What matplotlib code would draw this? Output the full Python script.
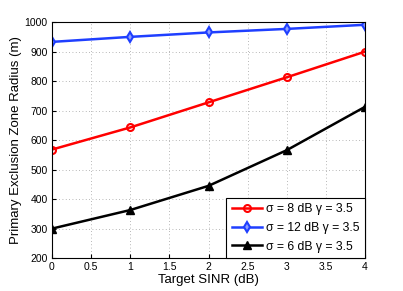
import matplotlib
matplotlib.use("Agg")
import matplotlib.pyplot as plt

plt.rcParams['font.family'] = ['Liberation Sans', 'DejaVu Sans']

sinr = [0, 1, 2, 3, 4]
r_sigma8 = [568, 643, 728, 813, 900]
r_sigma12 = [933, 950, 965, 977, 991]
r_sigma6 = [300, 363, 445, 566, 713]

fig = plt.figure(figsize=(4.03, 2.91), dpi=100)
ax = fig.add_axes([0.129, 0.113, 0.777, 0.811])

ax.plot(sinr, r_sigma8, color='red', lw=1.8, marker='o', ms=5, mfc='none', mew=1.5,
        label='σ = 8 dB γ = 3.5')
ax.plot(sinr, r_sigma12, color='#1f3fff', lw=1.8, marker='d', ms=5.5, mfc='#8fa0ff', mew=1.5,
        label='σ = 12 dB γ = 3.5')
ax.plot(sinr, r_sigma6, color='black', lw=1.8, marker='^', ms=5.5, mfc='black',
        label='σ = 6 dB γ = 3.5')

ax.set_xlim(0, 4)
ax.set_ylim(200, 1000)
ax.set_xticks([0, 0.5, 1, 1.5, 2, 2.5, 3, 3.5, 4])
ax.set_xticklabels(['0', '0.5', '1', '1.5', '2', '2.5', '3', '3.5', '4'])
ax.tick_params(labelsize=7.5, direction='in', length=3, pad=3)
ax.grid(True, linestyle=(0, (1, 3)), color='#a0a0a0', lw=0.6)
ax.set_xlabel('Target SINR (dB)', fontsize=9.5, labelpad=1)
ax.set_ylabel('Primary Exclusion Zone Radius (m)', fontsize=9.5, labelpad=2)

leg = ax.legend(loc='lower right', fontsize=8.8, fancybox=False, framealpha=1,
                edgecolor='black', borderaxespad=0.0, handlelength=2.5,
                labelspacing=0.55, borderpad=0.45, handletextpad=0.3)
leg.get_frame().set_linewidth(0.8)

fig.savefig('out.png', dpi=100)
